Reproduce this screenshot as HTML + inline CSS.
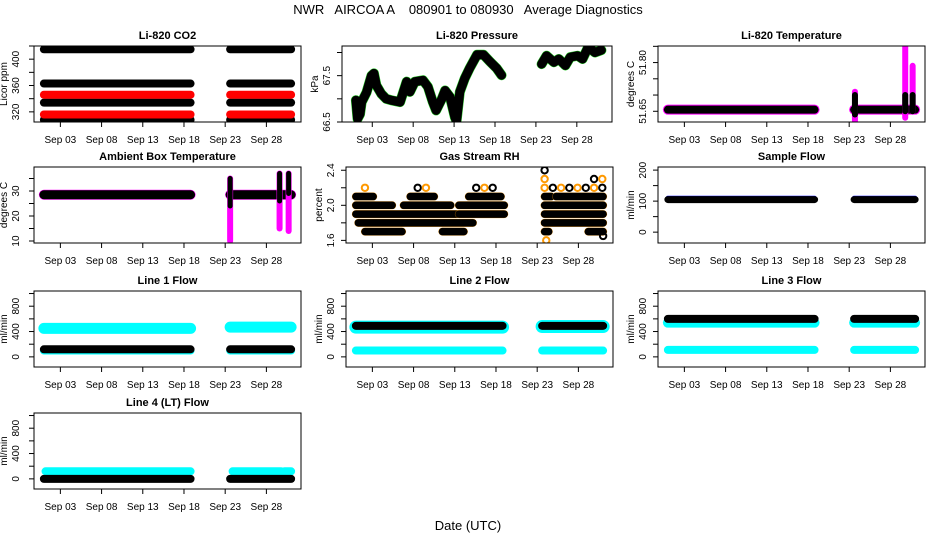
<!DOCTYPE html>
<html><head><meta charset="utf-8">
<style>
html,body{margin:0;padding:0;background:#fff;}
svg{display:block;font-family:"Liberation Sans",sans-serif;}
</style></head>
<body>
<svg id="chart" width="936" height="540" viewBox="0 0 936 540">
<text x="468" y="14" text-anchor="middle" font-size="13" style="white-space:pre" xml:space="preserve">NWR   AIRCOA A    080901 to 080930   Average Diagnostics</text>
<text x="468" y="530" text-anchor="middle" font-size="13">Date (UTC)</text>
</svg>
<script>
// ---- data (day of September) ----
const segDays = [[1.0, 18.8], [23.6, 31.0]];
const xTickDays = [3, 8, 13, 18, 23, 28];
const xTickLabels = ["Sep 03", "Sep 08", "Sep 13", "Sep 18", "Sep 23", "Sep 28"];

const co2BlackLevels = [415, 363, 334, 308];
const co2RedLevels = [346, 316];

const pressDays1 = [1.0,1.2,1.5,1.7,2.3,2.9,3.2,3.5,4.1,4.7,5.3,6.4,7.2,7.6,8.2,9.2,9.8,10.4,10.8,11.5,11.9,12.5,13.1,13.3,13.7,14.3,14.9,15.8,16.6,17.4,18.2,18.8];
const pressVals1 = [66.97,66.57,66.67,66.93,67.14,67.5,67.55,67.29,67.11,67.0,66.97,66.93,67.37,67.15,67.37,67.4,67.26,66.93,66.75,67.0,67.18,67.04,66.6,66.52,67.15,67.44,67.66,67.95,67.95,67.8,67.66,67.51];
const pressDays2 = [23.7,24.3,25.2,25.8,26.6,27.2,28.1,28.7,29.4,30.2,31.0];
const pressVals2 = [67.75,67.93,67.79,67.86,67.72,67.9,67.93,67.86,68.12,68.0,68.05];

const tempLevel = 51.655;
const tempSpikeDays = [23.7, 29.8, 30.7];
const tempSpikeMin = [51.62, 51.63, 51.65];
const tempSpikeMax = [51.71, 51.86, 51.79];
const tempBlackSpikeMin = [51.64, 51.65, 51.65];
const tempBlackSpikeMax = [51.70, 51.70, 51.70];

const ambLevel = 28.5;
const ambSpikeDays = [23.6, 29.6, 30.7];
const ambSpikeMin = [10, 15, 14];
const ambSpikeMax = [35, 37, 37];
const ambBlackMin = [24, 26, 29];
const ambBlackMax = [35, 37, 37];

const rhLevels = [2.1,2.1,2.1,2.1,2.1, 2.0,2.0,2.0,2.0, 1.9,1.9,1.9, 1.8,1.8, 1.7,1.7,1.7,1.7];
const rhStarts = [1.0,7.6,14.7,23.9,25.3, 1.0,6.8,13.5,23.9, 1.0,13.5,23.9, 1.3,23.9, 2.1,11.5,23.9,29.2];
const rhEnds   = [3.1,10.5,18.6,24.7,31.0, 5.4,12.5,19.0,31.0, 13.3,19.0,31.0, 15.2,31.0, 6.6,14.1,24.4,31.0];
const rhPtDays = [2.1,8.5,9.5,15.6,16.6,17.6,23.9,24.9,25.9,26.9,27.9,28.9,29.9,30.9,23.9,29.9,30.9,23.9,24.1,31.0];
const rhPtVals = [2.2,2.2,2.2,2.2,2.2,2.2,2.2,2.2,2.2,2.2,2.2,2.2,2.2,2.2,2.3,2.3,2.3,2.4,1.6,1.65];

const sampleBlack = 105;
const sampleBlue = 111;

const line1Cyan = [450, 470];
const line1Black = 120;
const line1CyanLow = 100;
const line2Cyan = [470, 480];
const line2Black = 490;
const line2CyanLow = 100;
const line3Cyan = [540, 540];
const line3Black = 600;
const line3CyanLow = 110;
const line4Cyan = 120;
const line4Black = 0;
const line4CyanSegs = [[1.2, 18.8], [23.9, 29.8], [30.2, 31.0]];

// ---- layout ----
const NS = "http://www.w3.org/2000/svg";
const svg = document.getElementById("chart");
function el(tag, attrs, parent) {
  const e = document.createElementNS(NS, tag);
  for (const k in attrs) e.setAttribute(k, attrs[k]);
  (parent || svg).appendChild(e);
  return e;
}
const H = 76;
function makePanel(o) {
  const g = el("g", {});
  
  
  const p = Object.assign({}, o, {g});
  p.sx = d => o.L + (d - o.x0) / (o.x1 - o.x0) * o.W;
  p.sy = v => o.T + H - (v - o.y0) / (o.y1 - o.y0) * H;
  const t = el("text", {x: o.L + o.W / 2, y: o.T - 7, "text-anchor": "middle", "font-size": 11, "font-weight": "bold"}, g);
  t.textContent = o.title;
  
  
  p.data = el("g", {}, g);
  const clip = "c" + o.name;
  const cp = el("clipPath", {id: clip}, g);
  el("rect", {x: o.L, y: o.T, width: o.W, height: H}, cp);
  p.data.setAttribute("clip-path", "url(#" + clip + ")");
  const box = el("rect", {x: o.L, y: o.T, width: o.W, height: H, fill: "none", stroke: "#000", "stroke-width": 1}, g);
  
  
  xTickDays.forEach((d, i) => {
    const x = p.sx(d);
    el("line", {x1: x, x2: x, y1: o.T + H, y2: o.T + H + 5, stroke: "#000"}, g);
    const tl = el("text", {x: x, y: o.T + H + 21, "text-anchor": "middle", "font-size": 10}, g);
    tl.textContent = xTickLabels[i];
    
    
  });
  const lx = o.L - (o.col === 0 ? 15 : 12);
  o.yTicks.forEach(v => {
    const y = p.sy(v);
    el("line", {x1: o.L - 5, x2: o.L, y1: y, y2: y, stroke: "#000"}, g);
  });
  o.yLabels.forEach(v => {
    const y = p.sy(v);
    const tl = el("text", {x: lx, y: y, "text-anchor": "middle", "font-size": 10, transform: `rotate(-90 ${lx} ${y})`}, g);
    tl.textContent = String(v);
    
    
  });
  const ax = o.L - (o.col === 0 ? 27 : 24), ay = o.T + H / 2;
  const yt = el("text", {x: ax, y: ay, "text-anchor": "middle", "font-size": 10, transform: `rotate(-90 ${ax} ${ay})`}, g);
  yt.textContent = o.ylab;
  
  
  return p;
}
function band(p, d0, d1, v, color, w, name) {
  const l = el("line", {x1: p.sx(d0), x2: p.sx(d1), y1: p.sy(v), y2: p.sy(v), stroke: color, "stroke-width": w, "stroke-linecap": "round"}, p.data);
  
  
}
function vspike(p, d, a, b, color, w, name) {
  const l = el("line", {x1: p.sx(d), x2: p.sx(d), y1: p.sy(a), y2: p.sy(b), stroke: color, "stroke-width": w, "stroke-linecap": "round"}, p.data);
  
  
}
function poly(p, days, vals, color, w, name) {
  const pts = days.map((d, i) => p.sx(d) + "," + p.sy(vals[i])).join(" ");
  const l = el("polyline", {points: pts, fill: "none", stroke: color, "stroke-width": w, "stroke-linecap": "round", "stroke-linejoin": "round"}, p.data);
  
  
}
const rows = [46, 167, 291, 413];
const cols = [34, 346, 658];
const flowTicks = [0, 200, 400, 600, 800, 1000], flowLabels = [0, 400, 800];
const base = {x0: -0.2, x1: 32.2, W: 267};

// CO2
let p = makePanel(Object.assign({}, base, {name: "panel-co2", title: "Li-820 CO2", ylab: "Licor ppm", L: cols[0], T: rows[0], col: 0, y0: 304.6, y1: 420, yTicks: [320,340,360,380,400,420], yLabels: [320,360,400]}));
segDays.forEach(s => {
  co2BlackLevels.forEach(v => band(p, s[0], s[1], v, "#000", 8, "co2-black-band"));
  co2RedLevels.forEach(v => band(p, s[0], s[1], v, "#f00", 8, "co2-red-band"));
});

// Pressure
p = makePanel({name: "panel-pressure", title: "Li-820 Pressure", ylab: "kPa", L: 342, T: rows[0], col: 1, W: 270, x0: -0.7, x1: 32.3, y0: 66.5, y1: 68.14, yTicks: [66.5,67,67.5,68], yLabels: [66.5,67.5]});
poly(p, pressDays1, pressVals1, "#2c2", 10, "pressure-green"); poly(p, pressDays1, pressVals1, "#000", 9, "pressure-line");
poly(p, pressDays2, pressVals2, "#2c2", 10, "pressure-green"); poly(p, pressDays2, pressVals2, "#000", 9, "pressure-line");

// Temperature
p = makePanel(Object.assign({}, base, {name: "panel-temperature", title: "Li-820 Temperature", ylab: "degrees C", L: cols[2], T: rows[0], col: 2, y0: 51.617, y1: 51.851, yTicks: [51.65,51.70,51.75,51.80,51.85], yLabels: ["51.65","51.80"]}));
segDays.forEach(s => { band(p, s[0], s[1], tempLevel, "#f0f", 10, "temp-magenta"); band(p, s[0], s[1], tempLevel, "#000", 8, "temp-black"); });
tempSpikeDays.forEach((d, i) => vspike(p, d, tempSpikeMin[i], tempSpikeMax[i], "#f0f", 6, "temp-spike-magenta"));
tempSpikeDays.forEach((d, i) => vspike(p, d, tempBlackSpikeMin[i], tempBlackSpikeMax[i], "#000", 6, "temp-spike-black"));

// Ambient
p = makePanel(Object.assign({}, base, {name: "panel-ambient", title: "Ambient Box Temperature", ylab: "degrees C", L: cols[0], T: rows[1], col: 0, y0: 9.2, y1: 39.6, yTicks: [10,15,20,25,30,35], yLabels: [10,20,30]}));
segDays.forEach(s => { band(p, s[0], s[1], ambLevel, "#f0f", 10, "ambient-magenta"); band(p, s[0], s[1], ambLevel, "#000", 9, "ambient-black"); });
ambSpikeDays.forEach((d, i) => vspike(p, d, ambSpikeMin[i], ambSpikeMax[i], "#f0f", 6, "ambient-spike-magenta"));
ambSpikeDays.forEach((d, i) => vspike(p, d, ambBlackMin[i], ambBlackMax[i], "#000", 5, "ambient-spike-black"));

// RH
p = makePanel(Object.assign({}, base, {name: "panel-rh", title: "Gas Stream RH", ylab: "percent", L: cols[1], T: rows[1], col: 1, y0: 1.57, y1: 2.437, yTicks: [1.6,1.8,2.0,2.2,2.4], yLabels: ["1.6","2.0","2.4"]}));
rhLevels.forEach((v, i) => { band(p, rhStarts[i], rhEnds[i], v, "#f90", 8, "rh-orange"); band(p, rhStarts[i], rhEnds[i], v, "#000", 7.5, "rh-band"); });
rhPtDays.forEach((d, i) => {
  const c = el("circle", {cx: p.sx(d), cy: p.sy(rhPtVals[i]), r: 3.2, fill: "none", stroke: i % 2 ? "#000" : "#f90", "stroke-width": 2}, p.data);
  
  
});

// Sample flow
p = makePanel(Object.assign({}, base, {name: "panel-sample-flow", title: "Sample Flow", ylab: "ml/min", L: cols[2], T: rows[1], col: 2, y0: -35, y1: 210, yTicks: [0,50,100,150,200], yLabels: [0,100,200]}));
segDays.forEach(s => { band(p, s[0], s[1], sampleBlue, "#00f", 4, "sample-blue"); band(p, s[0], s[1], sampleBlack, "#000", 7, "sample-black"); });

// Line flows
function flowPanel(name, title, L, T, col) {
  return makePanel(Object.assign({}, base, {name, title, ylab: "ml/min", L, T, col, y0: -160, y1: 1040, yTicks: flowTicks, yLabels: flowLabels}));
}
p = flowPanel("panel-line1", "Line 1 Flow", cols[0], rows[2], 0);
segDays.forEach((s, i) => { band(p, s[0], s[1], line1Cyan[i], "#0ff", 11, "line1-cyan"); band(p, s[0], s[1], line1CyanLow, "#0ff", 8, "line1-cyan-low"); band(p, s[0], s[1], line1Black, "#000", 8, "line1-black"); });
p = flowPanel("panel-line2", "Line 2 Flow", cols[1], rows[2], 1);
segDays.forEach((s, i) => { band(p, s[0], s[1], line2Cyan[i], "#0ff", 13, "line2-cyan"); band(p, s[0], s[1], line2CyanLow, "#0ff", 8, "line2-cyan-low"); band(p, s[0], s[1], line2Black, "#000", 8, "line2-black"); });
p = flowPanel("panel-line3", "Line 3 Flow", cols[2], rows[2], 2);
segDays.forEach((s, i) => { band(p, s[0], s[1], line3Cyan[i], "#0ff", 10, "line3-cyan"); band(p, s[0], s[1], line3CyanLow, "#0ff", 8, "line3-cyan-low"); band(p, s[0], s[1], line3Black, "#000", 8, "line3-black"); });
p = flowPanel("panel-line4", "Line 4 (LT) Flow", cols[0], rows[3], 0);
line4CyanSegs.forEach(s => band(p, s[0], s[1], line4Cyan, "#0ff", 8, "line4-cyan"));
segDays.forEach(s => band(p, s[0], s[1], line4Black, "#000", 8, "line4-black"));
</script>
</body></html>
